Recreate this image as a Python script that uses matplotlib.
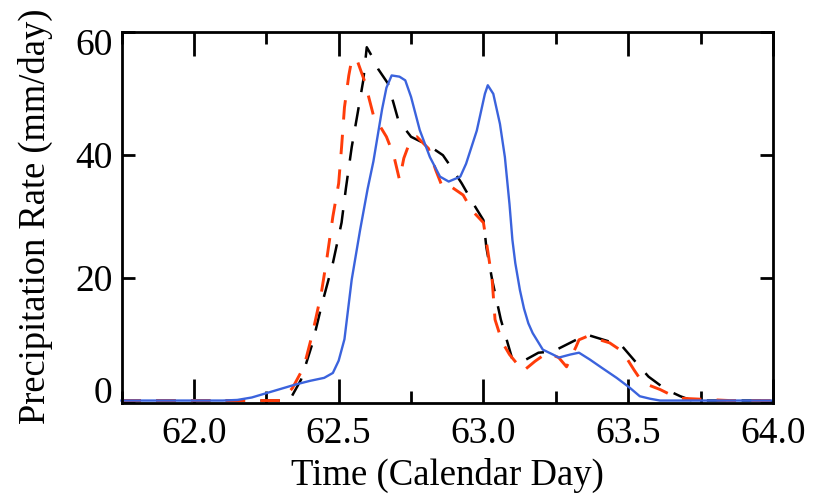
import matplotlib
matplotlib.use("Agg")
import matplotlib.pyplot as plt
from matplotlib.ticker import MultipleLocator, FormatStrFormatter
from matplotlib.transforms import ScaledTranslation

# Blue solid series
blue_x = [61.75, 62.10, 62.15, 62.20, 62.25, 62.30, 62.35, 62.40, 62.45, 62.48, 62.50, 62.52,
          62.545, 62.574, 62.60, 62.62, 62.65, 62.665, 62.683, 62.71, 62.73, 62.75, 62.78,
          62.815, 62.85, 62.88, 62.92, 62.94, 62.977, 63.005, 63.015, 63.034, 63.057, 63.074,
          63.09, 63.10, 63.11, 63.126, 63.14, 63.155, 63.17, 63.205, 63.24, 63.26, 63.30,
          63.33, 63.367, 63.41, 63.46, 63.505, 63.54, 63.575, 63.61, 64.0]
blue_y = [0, 0, 0.1, 0.5, 1.2, 1.9, 2.6, 3.2, 3.7, 4.5, 6.5, 10,
          19.7, 27.8, 34.5, 39, 47.5, 51, 53, 52.8, 52.2, 49.5, 44.1,
          39.7, 36.5, 35.7, 36.5, 38.6, 44, 50, 51.4, 50, 45.1, 39.7,
          32, 26.2, 22.4, 18, 15, 12.6, 11, 8.3, 7.5, 7.0, 7.5,
          7.8, 6.7, 5.3, 3.7, 2.1, 0.7, 0.3, 0, 0]

# Red dashed series
red_x = [61.75, 62.30, 62.34, 62.38, 62.41, 62.44, 62.46, 62.48, 62.50, 62.51, 62.52, 62.535,
         62.546, 62.565, 62.59, 62.62, 62.665, 62.69, 62.71, 62.725, 62.75, 62.77, 62.81,
         62.835, 62.86, 62.89, 62.93, 62.96, 63.00, 63.011, 63.03, 63.04, 63.065, 63.09,
         63.137, 63.178, 63.22, 63.26, 63.287, 63.32, 63.33, 63.36, 63.436, 63.48, 63.52,
         63.55, 63.61, 63.67, 63.76, 63.85, 64.0]
red_y = [0, 0, 2, 5.5, 11, 17.5, 23.4, 30, 35.4, 41.3, 47.8, 53,
         55.8, 55.3, 52, 46.5, 43, 40, 36, 39.5, 42.7, 43, 41.1,
         37.6, 34.6, 34.8, 33.5, 31, 29, 25.6, 19.7, 13.2, 9.5, 7.5,
         4.8, 6.4, 7.8, 7.0, 5.5, 8.8, 9.9, 10.5, 9.4, 8, 5,
         2.9, 1.8, 0.4, 0.2, 0, 0]

# Black dashed series
black_x = [61.75, 62.33, 62.37, 62.41, 62.44, 62.48, 62.51, 62.525, 62.545, 62.565, 62.585,
           62.597, 62.62, 62.637, 62.67, 62.69, 62.706, 62.75, 62.81, 62.86, 62.895, 62.925,
           62.965, 63.00, 63.01, 63.03, 63.06, 63.10, 63.14, 63.19, 63.24, 63.32, 63.36,
           63.45, 63.48, 63.54, 63.57, 63.63, 63.68, 63.72, 64.0]
black_y = [0, 0, 3.4, 9.4, 15.3, 22.4, 29, 34.6, 41.3, 46.7, 52.2,
           57.6, 55.7, 54, 51.7, 48.4, 45.7, 43, 41.6, 40, 37.6, 35.4,
           32.1, 29.4, 25, 19.7, 13.2, 6.7, 6.5, 7.8, 8, 9.9, 10.7,
           9.4, 8.8, 5.5, 3.9, 1.8, 0.7, 0, 0]

x_label = "Time (Calendar Day)"
y_label = "Precipitation Rate (mm/day)"
y_ticks = [0, 20, 40, 60]

plt.rcParams['font.family'] = ['Liberation Serif', 'DejaVu Serif']
plt.rcParams['lines.scale_dashes'] = False

fig = plt.figure(figsize=(8.21, 4.94), dpi=100)
ax = fig.add_axes([121.5 / 821, 1 - 403 / 494, (773 - 121.5) / 821, (403 - 32.5) / 494])

ax.plot(black_x, black_y, color='black', lw=1.8, dashes=(14, 11), clip_on=False)
ax.plot(red_x, red_y, color='#ff3c0a', lw=2.1, dashes=(14, 11), clip_on=False)
ax.plot(blue_x, blue_y, color='#3b63dd', lw=1.7, clip_on=False)

ax.set_xlim(61.75, 64.0)
ax.set_ylim(-0.4, 60)
ax.xaxis.set_major_locator(MultipleLocator(0.5))
ax.xaxis.set_minor_locator(MultipleLocator(0.25))
ax.xaxis.set_major_formatter(FormatStrFormatter('%.1f'))
ax.set_yticks(y_ticks)

ax.tick_params(axis='x', which='major', direction='in', top=True, length=17.5, width=2, pad=10, labelsize=27)
ax.tick_params(axis='x', which='minor', direction='in', top=True, length=8.7, width=2)
ax.tick_params(axis='y', which='major', direction='in', right=True, length=9.5, width=2, pad=6.5, labelsize=27)
for s in ax.spines.values():
    s.set_linewidth(2)

# end labels of the y axis sit inside the axis range
yt = ax.yaxis.get_major_ticks()
yt[0].label1.set_transform(yt[0].label1.get_transform() + ScaledTranslation(0, 0.105, fig.dpi_scale_trans))
yt[-1].label1.set_transform(yt[-1].label1.get_transform() + ScaledTranslation(0, -0.09, fig.dpi_scale_trans))

ax.set_xlabel(x_label, fontsize=26.5, va='top')
ax.xaxis.set_label_coords(0.5, -0.147)
ax.set_ylabel(y_label, fontsize=26.3, va='bottom')
ax.yaxis.set_label_coords(-0.105, 0.505)

fig.savefig("out.png", dpi=100)
